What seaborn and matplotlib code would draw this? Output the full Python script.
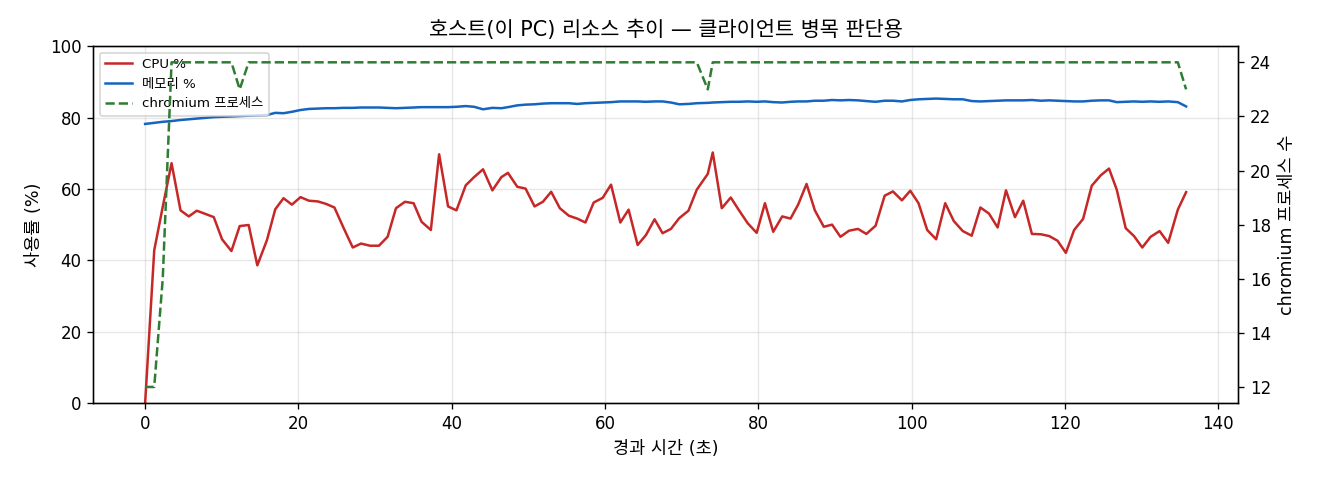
import matplotlib
matplotlib.use("Agg")
import matplotlib.pyplot as plt
import seaborn as sns
import pandas as pd

# sample times (s) - sampling is ~1.1 s with jitter
elapsed_s = [
    0.0, 1.19, 2.3, 3.45, 4.62, 5.70, 6.74, 7.87, 8.96, 10.04,
    11.26, 12.34, 13.51, 14.64, 15.90, 16.98, 18.06, 19.15, 20.28, 21.37,
    22.54, 23.62, 24.70, 25.87, 27.09, 28.17, 29.34, 30.51, 31.64, 32.73,
    33.90, 35.03, 36.07, 37.28, 38.36, 39.53, 40.62, 41.83, 42.92, 44.09,
    45.31, 46.48, 47.34, 48.56, 49.64, 50.81, 51.90, 52.98, 54.11, 55.28,
    56.37, 57.45, 58.53, 59.70, 60.79, 62.00, 63.08, 64.26, 65.35, 66.47,
    67.51, 68.60, 69.68, 70.89, 71.98, 73.41, 74.06, 75.24, 76.41, 77.49,
    78.62, 79.79, 80.87, 81.95, 83.12, 84.21, 85.20, 86.30, 87.38, 88.55,
    89.63, 90.72, 91.84, 93.01, 94.10, 95.31, 96.49, 97.57, 98.74, 99.83,
    100.91, 102.04, 103.21, 104.39, 105.51, 106.68, 107.85, 108.98, 110.10, 111.23,
    112.32, 113.49, 114.57, 115.70, 116.88, 117.96, 119.04, 120.13, 121.21, 122.38,
    123.51, 124.68, 125.76, 126.77, 127.94, 129.02, 130.10, 131.19, 132.36, 133.48,
    134.74, 135.82,
]

cpu_pct = [
    0.0, 42.8, 55.0, 67.2, 54.0, 52.3, 53.9, 53.0, 52.1, 45.9,
    42.6, 49.6, 49.9, 38.6, 45.7, 54.3, 57.4, 55.6, 57.7, 56.7,
    56.5, 55.8, 54.8, 49.2, 43.6, 44.7, 44.1, 44.1, 46.6, 54.6,
    56.4, 56.0, 50.8, 48.5, 69.7, 55.1, 54.0, 61.0, 63.3, 65.5,
    59.6, 63.3, 64.5, 60.6, 60.1, 55.1, 56.4, 59.2, 54.6, 52.5,
    51.7, 50.6, 56.2, 57.5, 61.2, 50.6, 54.2, 44.3, 47.1, 51.5,
    47.6, 48.8, 51.8, 53.9, 59.8, 64.2, 70.2, 54.6, 57.6, 54.0,
    50.4, 47.7, 56.0, 48.0, 52.3, 51.7, 55.6, 61.4, 54.0, 49.4,
    50.0, 46.6, 48.3, 48.8, 47.4, 49.7, 58.1, 59.3, 56.8, 59.5,
    56.0, 48.5, 45.9, 56.0, 51.0, 48.2, 46.9, 54.8, 53.1, 49.2,
    59.6, 52.1, 56.7, 47.4, 47.3, 46.8, 45.5, 42.1, 48.5, 51.6,
    60.9, 63.8, 65.7, 59.8, 49.0, 46.8, 43.6, 46.6, 48.2, 44.9,
    54.2, 59.1,
]

mem_pct = [
    78.2, 78.5, 78.8, 79.0, 79.3, 79.5, 79.7, 79.9, 80.1, 80.2,
    80.3, 80.4, 80.5, 80.6, 80.7, 81.3, 81.2, 81.6, 82.1, 82.4,
    82.5, 82.6, 82.6, 82.7, 82.7, 82.8, 82.8, 82.8, 82.7, 82.6,
    82.7, 82.8, 82.9, 82.9, 82.9, 82.9, 83.0, 83.2, 83.0, 82.3,
    82.7, 82.6, 82.9, 83.4, 83.6, 83.7, 83.9, 84.0, 84.0, 84.0,
    83.8, 84.0, 84.1, 84.2, 84.3, 84.5, 84.5, 84.5, 84.4, 84.5,
    84.5, 84.2, 83.7, 83.8, 84.0, 84.1, 84.2, 84.3, 84.4, 84.4,
    84.5, 84.4, 84.5, 84.3, 84.2, 84.4, 84.5, 84.5, 84.7, 84.7,
    84.9, 84.8, 84.9, 84.8, 84.6, 84.4, 84.7, 84.7, 84.5, 84.9,
    85.1, 85.2, 85.3, 85.2, 85.1, 85.1, 84.6, 84.5, 84.6, 84.7,
    84.8, 84.8, 84.8, 84.9, 84.7, 84.8, 84.7, 84.6, 84.5, 84.5,
    84.7, 84.8, 84.8, 84.3, 84.4, 84.5, 84.4, 84.5, 84.4, 84.5,
    84.3, 83.1,
]

chromium_procs = [12, 12, 16] + [24] * 8 + [23] + [24] * 53 + [23] + [24] * 55 + [23]

df = pd.DataFrame({
    "t": elapsed_s,
    "cpu": cpu_pct,
    "mem": mem_pct,
    "procs": chromium_procs,
})

plt.rcParams["font.family"] = ["DejaVu Sans", "Noto Sans CJK KR"]
plt.rcParams["axes.unicode_minus"] = False

fig, ax = plt.subplots(figsize=(11, 4), dpi=120)
fig.subplots_adjust(left=0.0705, right=0.938, top=0.904, bottom=0.160)

sns.lineplot(data=df, x="t", y="cpu", ax=ax, color="#c62828", linewidth=1.5, label="CPU %")
sns.lineplot(data=df, x="t", y="mem", ax=ax, color="#1565c0", linewidth=1.5, label="메모리 %")
ax.set_ylim(0, 100)
ax.set_xlabel("경과 시간 (초)", fontsize=10.5)
ax.set_ylabel("사용률 (%)", fontsize=10.5)
ax.set_title("호스트(이 PC) 리소스 추이 — 클라이언트 병목 판단용", fontsize=12.5)
ax.grid(True, alpha=0.3)
ax.tick_params(labelsize=10)

ax2 = ax.twinx()
sns.lineplot(data=df, x="t", y="procs", ax=ax2, color="#2e7d32", linewidth=1.5,
             linestyle="--", label="chromium 프로세스")
ax2.set_ylabel("chromium 프로세스 수", fontsize=10.5)
ax2.tick_params(labelsize=10)
if ax2.get_legend() is not None:
    ax2.get_legend().remove()

h1, l1 = ax.get_legend_handles_labels()
h2, l2 = ax2.get_legend_handles_labels()
ax.legend(h1 + h2, l1 + l2, loc="upper left", fontsize=8)

fig.savefig("out.png", dpi=120)
